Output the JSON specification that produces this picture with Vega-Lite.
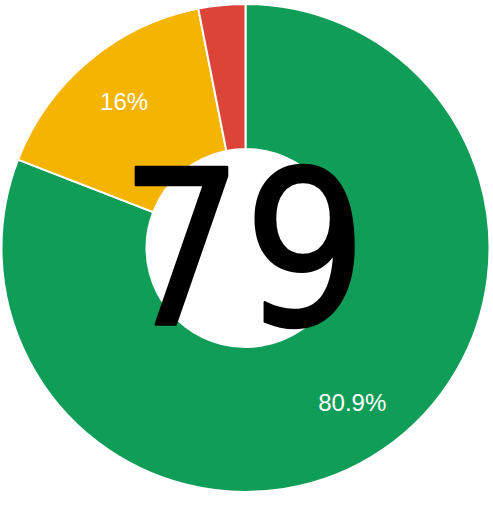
{
  "$schema": "https://vega.github.io/schema/vega-lite/v6.json",
  "width": 491,
  "height": 496,
  "padding": 0,
  "autosize": {"type": "none"},
  "background": "white",
  "config": {"view": {"stroke": null}},
  "layer": [
    {
      "data": {
        "values": [
          {"category": "Green", "value": 80.9, "order": 1, "label": "80.9%"},
          {"category": "Yellow", "value": 16.0, "order": 2, "label": "16%"},
          {"category": "Red", "value": 3.1, "order": 3, "label": ""}
        ]
      },
      "encoding": {
        "theta": {"field": "value", "type": "quantitative", "stack": true},
        "order": {"field": "order", "type": "quantitative"}
      },
      "layer": [
        {
          "mark": {"type": "arc", "outerRadius": 244, "innerRadius": 99, "stroke": "white", "strokeWidth": 2},
          "encoding": {
            "color": {
              "field": "category",
              "type": "nominal",
              "scale": {"domain": ["Green", "Yellow", "Red"], "range": ["#109d58", "#f4b400", "#dc4437"]},
              "legend": null
            }
          }
        },
        {
          "mark": {"type": "text", "radius": 189, "fill": "white", "fontSize": 24, "font": "Liberation Sans", "align": "center", "baseline": "middle"},
          "encoding": {"text": {"field": "label", "type": "nominal"}}
        }
      ]
    },
    {
      "data": {"values": [{"center": "79"}]},
      "mark": {"type": "text", "fontSize": 216, "font": "DejaVu Sans Condensed", "fill": "black", "stroke": "black", "strokeWidth": 2.5, "strokeJoin": "round", "align": "center", "baseline": "alphabetic", "dx": -2, "dy": 77},
      "encoding": {"text": {"field": "center", "type": "nominal"}}
    }
  ]
}
